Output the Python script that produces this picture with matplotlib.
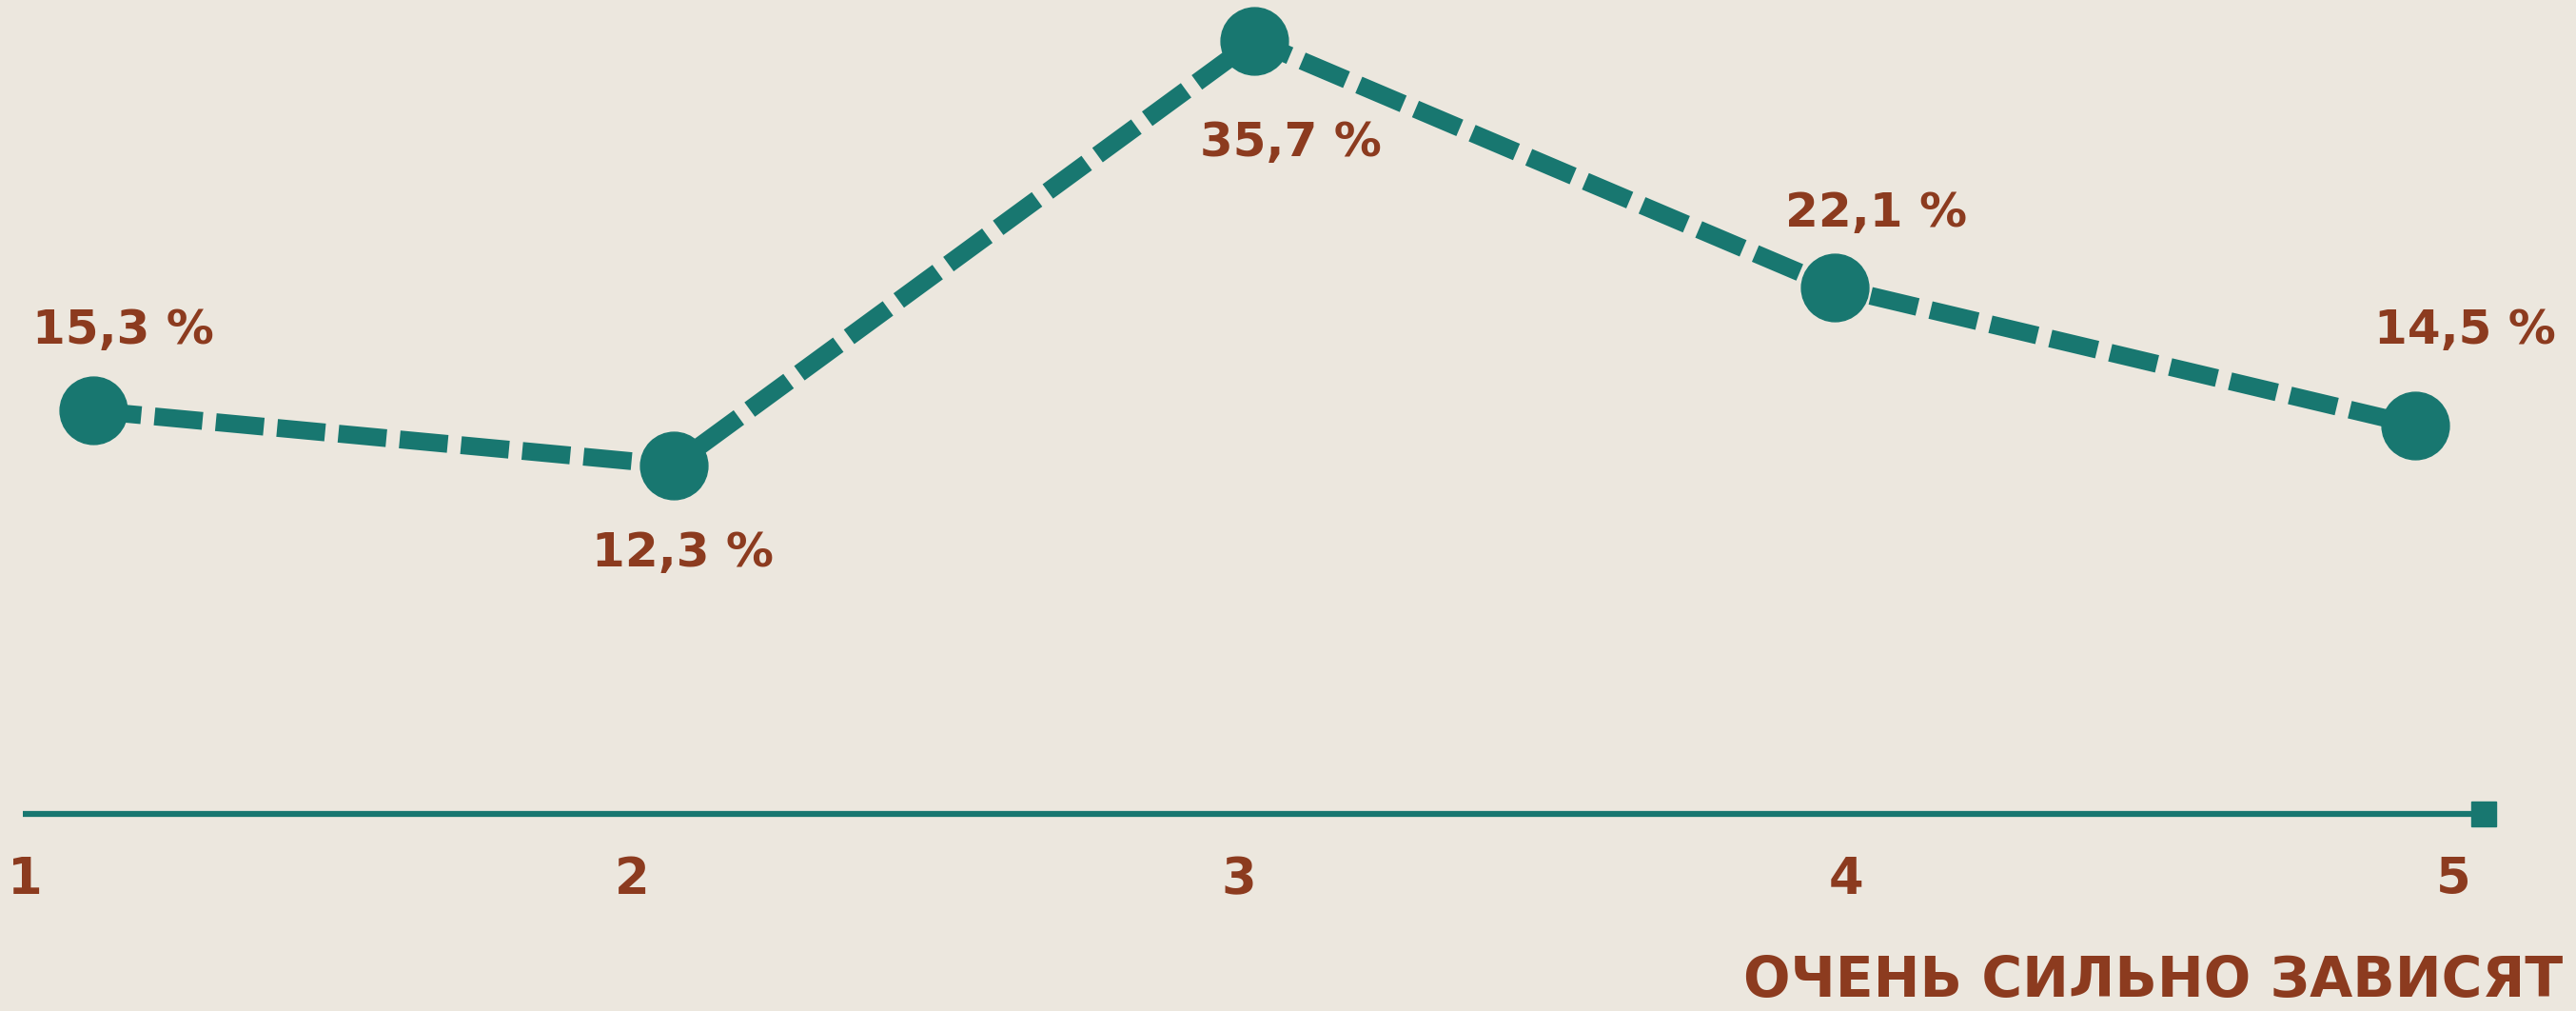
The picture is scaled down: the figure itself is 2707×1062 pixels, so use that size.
import matplotlib.pyplot as plt
import numpy as np

# scale points 1..5 and share of answers, %
points = [1, 2, 3, 4, 5]
shares = [15.3, 12.3, 35.7, 22.1, 14.5]
labels = ['15,3 %', '12,3 %', '35,7 %', '22,1 %', '14,5 %']
tick_labels = ['1', '2', '3', '4', '5']
caption = 'ОЧЕНЬ СИЛЬНО ЗАВИСЯТ'

# label offsets from the marker, in pixels (x right, y up)
label_offsets = [(31, 84), (9, -92), (38, -107), (44, 78), (52, 100)]

bg = '#ece7de'
teal = '#187770'
brown = '#8c3b1f'
font = 'DejaVu Sans'

fig = plt.figure(figsize=(27.07, 10.62), dpi=100)
fig.patch.set_facecolor(bg)
ax = fig.add_axes([0, 0, 1, 1])
ax.set_facecolor(bg)
ax.axis('off')

# px per unit along x: 610, first point at 98 px
ax.set_xlim(1 - 98 / 610, 1 + (2707 - 98) / 610)
ax.set_ylim(-17.78, 37.93)

ax.plot(points, shares, color=teal, lw=13.5, ls=(0, (2.7, 0.75)),
        dash_capstyle='butt', zorder=2)
ax.plot(points, shares, 'o', color=teal, ms=51, zorder=3)

for x, y, lab, (dx, dy) in zip(points, shares, labels, label_offsets):
    ax.annotate(lab, (x, y), xytext=(dx, dy), textcoords='offset pixels',
                ha='center', va='center', fontsize=36, color=brown,
                fontfamily=font, fontweight='bold')

# bottom scale line with square end
base_y = 1 - 855 / 1062
ax.plot([24 / 2707, 2610 / 2707], [base_y, base_y], color=teal, lw=4.5,
        transform=ax.transAxes, solid_capstyle='butt', zorder=2)
ax.plot([2610 / 2707], [base_y], 's', color=teal, ms=19,
        transform=ax.transAxes, zorder=3)

tick_x = np.linspace(26 / 2707, 2578 / 2707, len(tick_labels))
for tx, t in zip(tick_x, tick_labels):
    ax.text(tx, 1 - 924 / 1062, t, transform=ax.transAxes, ha='center',
            va='center', fontsize=38, color=brown, fontfamily=font,
            fontweight='bold')

ax.text(2693 / 2707, 1 - 1031 / 1062, caption, transform=ax.transAxes,
        ha='right', va='center', fontsize=42, color=brown, fontfamily=font,
        fontweight='bold')

fig.savefig('out.png', dpi=100, facecolor=bg)
